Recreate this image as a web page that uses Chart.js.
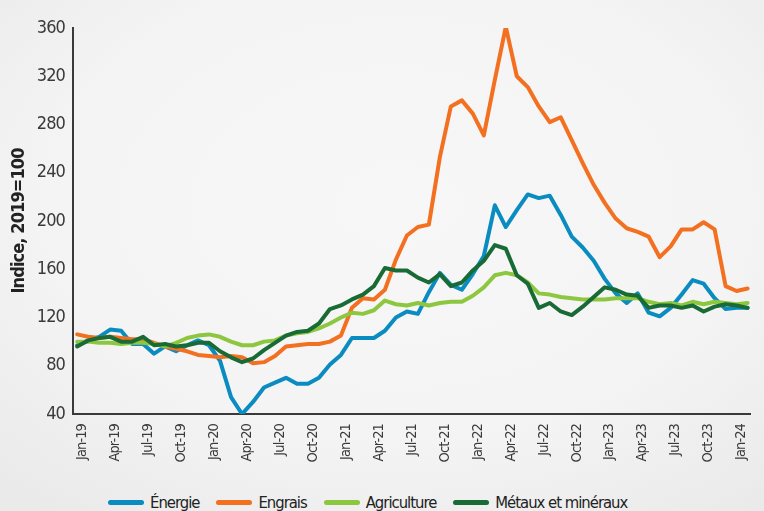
<!DOCTYPE html>
<html><head><meta charset="utf-8">
<script src="https://cdn.jsdelivr.net/npm/chart.js@4"></script>
<style>
html,body{margin:0;padding:0;}
body{width:764px;height:511px;overflow:hidden;position:relative;
 background:radial-gradient(ellipse 75% 75% at 52% 40%, #f7f7f7 0%, #f4f4f4 60%, #eaeaea 100%);
 font-family:'DejaVu Sans Condensed','DejaVu Sans',sans-serif;}
#wrap{position:absolute;left:0;top:0;width:764px;height:470px;}
#legend{position:absolute;left:108px;top:491px;height:22px;display:flex;align-items:center;color:#222;font-size:16.5px;letter-spacing:-1px;}
.item{display:flex;align-items:center;margin-right:17px;}
.sw{width:36px;height:5px;border-radius:3px;margin-right:6px;}
</style></head>
<body>
<div id="wrap"><canvas id="c"></canvas></div>
<div id="legend"></div>
<script>
const MONTHS = ["Jan-19","Feb-19","Mar-19","Apr-19","May-19","Jun-19","Jul-19","Aug-19","Sep-19","Oct-19","Nov-19","Dec-19",
"Jan-20","Feb-20","Mar-20","Apr-20","May-20","Jun-20","Jul-20","Aug-20","Sep-20","Oct-20","Nov-20","Dec-20",
"Jan-21","Feb-21","Mar-21","Apr-21","May-21","Jun-21","Jul-21","Aug-21","Sep-21","Oct-21","Nov-21","Dec-21",
"Jan-22","Feb-22","Mar-22","Apr-22","May-22","Jun-22","Jul-22","Aug-22","Sep-22","Oct-22","Nov-22","Dec-22",
"Jan-23","Feb-23","Mar-23","Apr-23","May-23","Jun-23","Jul-23","Aug-23","Sep-23","Oct-23","Nov-23","Dec-23",
"Jan-24","Feb-24"];
const TICK_INDEX = [0,3,6,9,12,15,18,21,24,27,30,33,36,39,42,45,48,51,54,57,60];
const Y_TICKS = [40,80,120,160,200,240,280,320,360];
const SERIES_NAMES = ["Énergie","Engrais","Agriculture","Métaux et minéraux"];
const SERIES_COLORS = ["#0a8cc0","#f37021","#8dc63f","#196b35"];
const ENERGIE = [97,101,104,110,109,98,98,90,96,92,97,101,97,84,54,40,50,62,66,70,65,65,70,81,89,103,103,103,109,120,125,123,141,157,147,143,156,171,213,195,209,222,219,221,205,187,178,167,152,140,132,140,124,121,128,139,151,148,136,127,128,128];
const ENGRAIS = [106,104,103,104,103,102,102,99,96,94,92,89,88,87,88,87,82,83,88,96,97,98,98,100,105,128,136,135,143,168,188,195,197,253,295,300,289,271,317,361,320,311,295,282,286,267,248,230,215,202,194,191,187,170,179,193,193,199,193,146,142,144];
const AGRICULTURE = [100,100,99,99,98,99,99,98,96,99,103,105,106,104,100,97,97,100,101,105,107,108,111,115,120,124,123,126,134,131,130,132,130,132,133,133,138,145,155,157,155,149,140,139,137,136,135,135,135,136,136,136,133,131,132,130,133,131,133,132,131,132];
const METAUX = [96,101,103,104,100,100,104,97,98,96,97,99,99,92,87,83,86,93,99,105,108,109,115,127,130,135,139,146,161,159,159,153,149,156,146,149,159,167,180,177,155,148,128,132,125,122,129,137,145,143,139,138,128,130,130,128,130,125,129,131,130,128];

const ALL = [ENERGIE, ENGRAIS, AGRICULTURE, METAUX];
const FONT = "'DejaVu Sans Condensed','DejaVu Sans',sans-serif";

const datasets = ALL.map((arr, k) => ({
  label: SERIES_NAMES[k],
  data: arr.map((v, i) => ({x: i, y: v})),
  borderColor: SERIES_COLORS[k],
  backgroundColor: SERIES_COLORS[k],
  borderWidth: 4,
  pointRadius: 0,
  tension: 0,
  borderJoinStyle: 'round',
  borderCapStyle: 'round'
})).reverse();

const lg = document.getElementById('legend');
SERIES_NAMES.forEach((n, k) => {
  const it = document.createElement('div'); it.className = 'item';
  const sw = document.createElement('span'); sw.className = 'sw'; sw.style.background = SERIES_COLORS[k];
  const tx = document.createElement('span'); tx.textContent = n;
  it.appendChild(sw); it.appendChild(tx); lg.appendChild(it);
});

const tightText = {
  id: 'tightText',
  beforeLayout(chart) { chart.ctx.letterSpacing = '-0.9px'; },
  beforeDraw(chart) { chart.ctx.letterSpacing = '-0.9px'; }
};

new Chart(document.getElementById('c'), {
  type: 'line',
  data: { datasets },
  plugins: [tightText],
  options: {
    responsive: true, maintainAspectRatio: false, animation: false,
    layout: { padding: { top: 28, right: 0, bottom: 0, left: 0 } },
    plugins: { legend: { display: false }, tooltip: { enabled: false } },
    scales: {
      x: {
        type: 'linear', min: -0.38, max: 61.3,
        afterBuildTicks: s => { s.ticks = TICK_INDEX.map(v => ({ value: v })); },
        afterFit: s => { s.height = 56; },
        grid: { display: false, drawTicks: false },
        border: { display: true, color: '#3a3a3a', width: 2 },
        ticks: {
          autoSkip: false, maxRotation: 90, minRotation: 90, padding: 10, labelOffset: 5,
          color: '#3a3a3a', font: { family: FONT, size: 14.5 },
          callback: v => MONTHS[v]
        }
      },
      y: {
        min: 40, max: 360,
        afterBuildTicks: s => { s.ticks = Y_TICKS.map(v => ({ value: v })); },
        afterFit: s => { s.width = 73; },
        grid: { display: false, drawTicks: false },
        border: { display: true, color: '#3a3a3a', width: 2 },
        ticks: { padding: 8, color: '#3a3a3a', font: { family: FONT, size: 18 } },
        title: { display: true, text: 'Indice, 2019=100', color: '#222', padding: { top: 9, bottom: 0 },
                 font: { family: FONT, size: 18, weight: 'bold' } }
      }
    }
  }
});
</script>
</body></html>
